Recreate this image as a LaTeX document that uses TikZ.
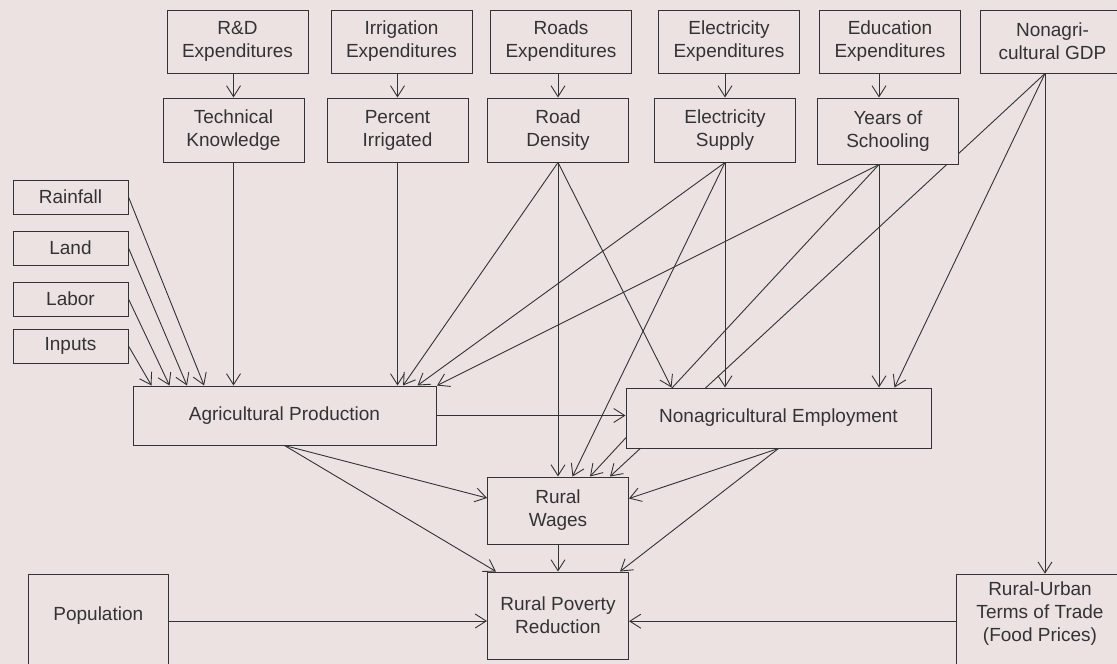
\documentclass[tikz,border=0pt]{standalone}
\usepackage{fontspec}
\setmainfont{Liberation Sans}
\usetikzlibrary{arrows.meta,backgrounds}
\definecolor{paper}{RGB}{237,226,226}
\definecolor{ink}{RGB}{51,51,51}

\begin{document}
\begin{tikzpicture}[x=1pt, y=-1pt, >={Straight Barb[length=11pt,width=14pt]}]

        \tikzset{
            var/.style={draw=ink, fill=paper, line width=1pt, align=center, inner sep=0pt,
                text=ink, font=\fontsize{19}{23}\selectfont},
            caption/.style={align=center, inner sep=0pt, text=ink, font=\fontsize{19}{23}\selectfont},
            expbox/.style={var, minimum width=141pt, minimum height=63pt},
            outbox/.style={var, minimum width=141pt, minimum height=64pt},
            factor/.style={var, minimum width=115pt, minimum height=34pt},
            link/.style={->, draw=ink, line width=0.9pt},
        }

        \useasboundingbox (0,0) rectangle (1117,664);
        \clip (0,0) rectangle (1117,664);

        % spending
        \node[expbox] (rdexp) at (237.5,41.5) {R\&D\\Expenditures};
        \node[expbox] (irrexp) at (401.5,41.5) {Irrigation\\Expenditures};
        \node[expbox] (roadexp) at (561,41.5) {Roads\\Expenditures};
        \node[expbox] (elecexp) at (729,41.5) {Electricity\\Expenditures};
        \node[expbox] (eduexp) at (890,41.5) {Education\\Expenditures};
        \node[expbox, minimum width=143.6pt] (gdp) at (1052.5,41.5) {Nonagri-\\cultural GDP};

        % capital stocks
        \node[outbox] (tech) at (233.5,130) {Technical\\Knowledge};
        \node[outbox] (pirr) at (397.5,130) {Percent\\Irrigated};
        \node[outbox] (rdens) at (558,130) {Road\\Density};
        \node[outbox] (esup) at (725,130) {Electricity\\Supply};
        \node[outbox, minimum height=66pt] (school) at (888,131) {Years of\\Schooling};

        \coordinate (schoolout) at ([xshift=-9pt]school.south);
        \coordinate (gdpout) at ([xshift=-7.5pt]gdp.south);

        % conventional inputs
        \node[factor] (rain) at (70.5,197) {Rainfall};
        \node[factor] (land) at (70.5,248) {Land};
        \node[factor] (labor) at (70.5,299) {Labor};
        \node[factor] (inputs) at (70.5,346) {Inputs};

        \node[var, minimum width=303pt, minimum height=59pt] (ag) at (284.5,415.5) {Agricultural Production};
        \node[var, minimum width=305pt, minimum height=60pt] (nonag) at (778.5,418) {Nonagricultural Employment};
        \node[var, minimum width=141pt, minimum height=67pt] (wages) at (558,510.5) {Rural\\Wages};
        \node[var, minimum width=141pt, minimum height=87pt] (rpr) at (558,615.5) {Rural Poverty\\Reduction};
        \node[var, minimum width=140.6pt, minimum height=94pt,
            label={[caption, yshift=5pt]center:Population}] (pop) at (98.3,621) {};
        \node[var, minimum width=168pt, minimum height=94pt,
            label={[caption, yshift=7.5pt]center:Rural-Urban\\Terms of Trade\\(Food Prices)}] (tot) at (1040,621.2) {};

        \begin{scope}[on background layer]
            \fill[paper] (0,0) rectangle (1117,664);

            \draw[link] (tech |- rdexp.south) -- (tech.north);
            \draw[link] (pirr |- irrexp.south) -- (pirr.north);
            \draw[link] (rdens |- roadexp.south) -- (rdens.north);
            \draw[link] (esup |- elecexp.south) -- (esup.north);
            \draw[link] (schoolout |- eduexp.south) -- (schoolout |- school.north);

            % into agricultural production
            \draw[link] (inputs.east) -- ([xshift=19pt]ag.north west);
            \draw[link] (labor.east) -- ([xshift=37pt]ag.north west);
            \draw[link] (land.east) -- ([xshift=54.5pt]ag.north west);
            \draw[link] (rain.east) -- ([xshift=71.6pt]ag.north west);
            \draw[link] (tech.south) -- (tech.south |- ag.north);
            \draw[link] (pirr.south) -- (pirr.south |- ag.north);
            \draw[link] (rdens.south) -- ([xshift=270.6pt]ag.north west);
            \draw[link] (esup.south) -- ([xshift=285pt]ag.north west);
            \draw[link] (schoolout) -- ([xshift=304.5pt]ag.north west);

            % into nonagricultural employment
            \draw[link] (rdens.south) -- ([xshift=46pt]nonag.north west);
            \draw[link] (esup.south) -- (esup.south |- nonag.north);
            \draw[link] (schoolout) -- (schoolout |- nonag.north);
            \draw[link] (gdpout) -- ([xshift=269pt]nonag.north west);
            \draw[link] (ag.east) -- (ag.east -| nonag.west);

            % into rural wages
            \draw[link] (rdens.south) -- (wages.north);
            \draw[link] (esup.south) -- ([xshift=85.5pt]wages.north west);
            \draw[link] (schoolout) -- ([xshift=103pt]wages.north west);
            \draw[link] (gdpout) -- ([xshift=123pt]wages.north west);
            \draw[link] (ag.south) -- ([yshift=12.5pt]wages.west);
            \draw[link] (nonag.south) -- ([yshift=12pt]wages.east);

            % into rural poverty reduction
            \draw[link] (wages.south) -- (rpr.north);
            \draw[link] (ag.south) -- ([xshift=9pt]rpr.north west);
            \draw[link] (nonag.south) -- ([xshift=-9pt]rpr.north east);
            \draw[link] (pop.east) -- (pop.east -| rpr.west);
            \draw[link] (tot.west) -- (tot.west -| rpr.east);
            \draw[link] (gdpout) -- (gdpout |- tot.north);
        \end{scope}
    \end{tikzpicture}
\end{document}
